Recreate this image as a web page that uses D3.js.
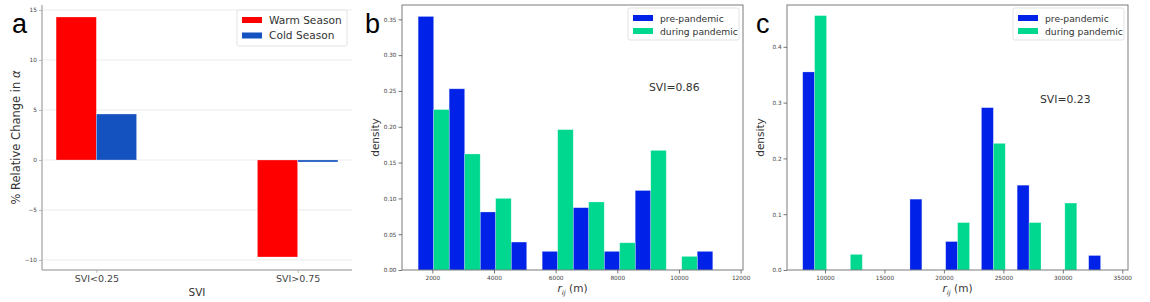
<!DOCTYPE html>
<html>
<head>
<meta charset="utf-8">
<script src="https://cdn.jsdelivr.net/npm/d3@7"></script>
<style>
	body { margin: 0; background: #fff; }
	svg { display: block; }
	text { font-family: "DejaVu Sans", sans-serif; }
</style>
</head>
<body>
<svg id="svg" width="1150" height="302"></svg>
<script>
// Panel a : relative change by SVI group
var sviCategories = ["SVI<0.25", "SVI>0.75"];
var warmSeason = [14.3, -9.7];
var coldSeason = [4.6, -0.2];
var changeTicks = [-10, -5, 0, 5, 10, 15];

// Panel b : SVI=0.86, left edge of each bin (m), two bars per bin
var binStartB = [1540, 2546, 3552, 4558, 5564, 6570, 7576, 8582, 9588, 10594];
var prePandemicB = [0.354, 0.253, 0.081, 0.039, 0.026, 0.087, 0.026, 0.111, 0, 0.026];
var duringPandemicB = [0.224, 0.162, 0.100, 0, 0.196, 0.095, 0.038, 0.167, 0.019, 0];
var rTicksB = [2000, 4000, 6000, 8000, 10000, 12000];
var densityTicksB = [0, 0.05, 0.10, 0.15, 0.20, 0.25, 0.30, 0.35];

// Panel c : SVI=0.23
var binStartC = [8125, 11131, 14137, 17143, 20149, 23155, 26161, 29167, 32173];
var prePandemicC = [0.355, 0, 0, 0.127, 0.051, 0.291, 0.152, 0, 0.026];
var duringPandemicC = [0.456, 0.028, 0, 0, 0.085, 0.227, 0.085, 0.120, 0];
var rTicksC = [10000, 15000, 20000, 25000, 30000, 35000];
var densityTicksC = [0, 0.1, 0.2, 0.3, 0.4];

var FIG = {};
FIG.svg = d3.select('#svg');
FIG.blue = '#0022e8';
FIG.green = '#00d88f';

// small ticks + labels, no domain line (spines drawn by hand)
FIG.styleAxis = function(g, fontSize){
	g.select('.domain').remove();
	g.selectAll('.tick line').attr('stroke', '#555').attr('stroke-width', 0.8);
	g.selectAll('.tick text')
		.attr('fill', '#444')
		.style('font-size', fontSize + 'px')
		.style('font-family', '"DejaVu Sans", sans-serif');
};

FIG.legend = function(g, x, y, w, h, items, fontSize, rowGap){
	var lg = g.append('g').attr('transform', 'translate(' + x + ',' + y + ')');
	lg.append('rect')
		.attr('width', w).attr('height', h)
		.attr('rx', 2)
		.attr('fill', '#fff').attr('fill-opacity', 0.85)
		.attr('stroke', '#dcdcdc').attr('stroke-width', 0.8);
	items.forEach(function(item, i){
		var row = lg.append('g').attr('transform', 'translate(5,' + (7 + i * rowGap) + ')');
		row.append('rect').attr('width', 20).attr('height', 6).attr('fill', item.color);
		row.append('text')
			.attr('x', 27).attr('y', 6.5)
			.style('font-size', fontSize + 'px')
			.attr('fill', '#333')
			.text(item.label);
	});
};

FIG.panelLetter = function(letter, x, y){
	FIG.svg.append('text')
		.attr('x', x).attr('y', y)
		.style('font-family', '"Liberation Sans", Arial, sans-serif')
		.style('font-size', '27px')
		.attr('fill', '#000')
		.text(letter);
};

FIG.drawPanelA = function(){
	var left = 42, right = 352, top = 5, bottom = 270,
		g = FIG.svg.append('g'),
		x = d3.scaleLinear().domain([-0.27, 1.27]).range([left, right]),
		y = d3.scaleLinear().domain([-11, 15.5]).range([bottom, top]),
		barW = 0.2;

	// grid
	g.selectAll('line.grid')
		.data(changeTicks)
		.enter()
		.append('line')
		.attr('class', 'grid')
		.attr('x1', left).attr('x2', right)
		.attr('y1', y).attr('y2', y)
		.attr('stroke', '#e6e6e6').attr('stroke-width', 0.8);

	var series = [
		{ values: warmSeason, color: '#ff0000', offset: -barW },
		{ values: coldSeason, color: '#1452c0', offset: 0 }
	];
	series.forEach(function(s){
		g.selectAll(null)
			.data(s.values)
			.enter()
			.append('rect')
			.attr('x', function(d, i){ return x(i + s.offset); })
			.attr('width', x(barW) - x(0))
			.attr('y', function(d){ return y(Math.max(0, d)); })
			.attr('height', function(d){ return Math.abs(y(d) - y(0)); })
			.attr('fill', s.color)
			.attr('stroke', '#fff').attr('stroke-opacity', 0.4).attr('stroke-width', 0.7);
	});

	// spines
	g.append('line').attr('x1', left).attr('x2', left).attr('y1', top).attr('y2', bottom)
		.attr('stroke', '#b3b3b3').attr('stroke-width', 1.5);
	g.append('line').attr('x1', left).attr('x2', right).attr('y1', bottom).attr('y2', bottom)
		.attr('stroke', '#b3b3b3').attr('stroke-width', 1.5);

	var yAxis = g.append('g')
		.attr('transform', 'translate(' + left + ',0)')
		.call(d3.axisLeft(y).tickValues(changeTicks).tickSize(3).tickPadding(2).tickFormat(d3.format('d')));
	FIG.styleAxis(yAxis, 5.8);
	yAxis.selectAll('.tick line').attr('stroke', '#aaa');

	var xAxis = g.append('g')
		.attr('transform', 'translate(0,' + bottom + ')')
		.call(d3.axisBottom(x).tickValues([0, 1]).tickSize(3).tickPadding(2).tickFormat(function(d){ return sviCategories[d]; }));
	FIG.styleAxis(xAxis, 9.5);
	xAxis.selectAll('.tick line').attr('stroke', '#aaa');

	var yl = g.append('text')
		.attr('transform', 'translate(20,' + ((top + bottom) / 2) + ') rotate(-90)')
		.attr('text-anchor', 'middle')
		.style('font-size', '11.5px')
		.attr('fill', '#333');
	yl.append('tspan').text('% Relative Change in ');
	yl.append('tspan').style('font-style', 'italic').text('α');

	g.append('text')
		.attr('x', (left + right) / 2).attr('y', 296)
		.attr('text-anchor', 'middle')
		.style('font-size', '10.5px')
		.attr('fill', '#333')
		.text('SVI');

	FIG.legend(g, 237, 10, 110, 36, [
		{ label: 'Warm Season', color: '#ff0000' },
		{ label: 'Cold Season', color: '#1452c0' }
	], 10.6, 15.5);

	FIG.panelLetter('a', 12, 33);
};

FIG.drawHistPanel = function(cfg){
	var left = cfg.left, right = cfg.right, top = 5, bottom = 270,
		g = FIG.svg.append('g'),
		x = d3.scaleLinear().domain(cfg.xDomain).range([left, right]),
		y = d3.scaleLinear().domain(cfg.yDomain).range([bottom, top]);

	var series = [
		{ values: cfg.pre, color: FIG.blue, offset: 0 },
		{ values: cfg.during, color: FIG.green, offset: cfg.barWidth }
	];
	series.forEach(function(s){
		g.selectAll(null)
			.data(s.values.map(function(v, i){ return { v: v, start: cfg.binStart[i] + s.offset }; })
				.filter(function(d){ return d.v > 0; }))
			.enter()
			.append('rect')
			.attr('x', function(d){ return x(d.start); })
			.attr('width', x(cfg.barWidth) - x(0))
			.attr('y', function(d){ return y(d.v); })
			.attr('height', function(d){ return y(0) - y(d.v); })
			.attr('fill', s.color)
			.attr('stroke', '#fff').attr('stroke-opacity', 0.35).attr('stroke-width', 0.7);
	});

	// box
	g.append('rect')
		.attr('x', left).attr('y', top)
		.attr('width', right - left).attr('height', bottom - top)
		.attr('fill', 'none')
		.attr('stroke', '#6e6e6e').attr('stroke-width', 0.9);

	var yAxis = g.append('g')
		.attr('transform', 'translate(' + left + ',0)')
		.call(d3.axisLeft(y).tickValues(cfg.yTicks).tickSize(3.5).tickPadding(2).tickFormat(d3.format(cfg.yFormat)));
	FIG.styleAxis(yAxis, 5.7);

	var xAxis = g.append('g')
		.attr('transform', 'translate(0,' + bottom + ')')
		.call(d3.axisBottom(x).tickValues(cfg.xTicks).tickSize(3.5).tickPadding(2).tickFormat(d3.format('d')));
	FIG.styleAxis(xAxis, 5.8);

	g.append('text')
		.attr('transform', 'translate(' + (left - 23) + ',' + ((top + bottom) / 2) + ') rotate(-90)')
		.attr('text-anchor', 'middle')
		.style('font-size', '10.5px')
		.attr('fill', '#333')
		.text('density');

	var xl = g.append('text')
		.attr('x', (left + right) / 2).attr('y', 292)
		.attr('text-anchor', 'middle')
		.style('font-size', '10.5px')
		.attr('fill', '#333');
	xl.append('tspan').style('font-style', 'italic').text('r');
	xl.append('tspan').style('font-style', 'italic').style('font-size', '7px').attr('dy', 2.5).text('ij');
	xl.append('tspan').attr('dy', -2.5).text(' (m)');

	g.append('text')
		.attr('x', cfg.noteX).attr('y', cfg.noteY)
		.style('font-size', '10.8px')
		.attr('fill', '#333')
		.text(cfg.note);

	FIG.legend(g, right - 115, 8, 111, 32, [
		{ label: 'pre-pandemic', color: FIG.blue },
		{ label: 'during pandemic', color: FIG.green }
	], 9.2, 13);

	FIG.panelLetter(cfg.letter, cfg.letterX, 33);
};

FIG.drawPanelA();

FIG.drawHistPanel({
	left: 402, right: 743,
	xDomain: [1016, 12078], yDomain: [0, 0.37],
	binStart: binStartB, barWidth: 503,
	pre: prePandemicB, during: duringPandemicB,
	xTicks: rTicksB, yTicks: densityTicksB, yFormat: '.2f',
	note: 'SVI=0.86', noteX: 649, noteY: 91,
	letter: 'b', letterX: 365
});

FIG.drawHistPanel({
	left: 787, right: 1128,
	xDomain: [6804, 35480], yDomain: [0, 0.475],
	binStart: binStartC, barWidth: 1002,
	pre: prePandemicC, during: duringPandemicC,
	xTicks: rTicksC, yTicks: densityTicksC, yFormat: '.1f',
	note: 'SVI=0.23', noteX: 1040, noteY: 103,
	letter: 'c', letterX: 756
});
</script>
</body>
</html>
